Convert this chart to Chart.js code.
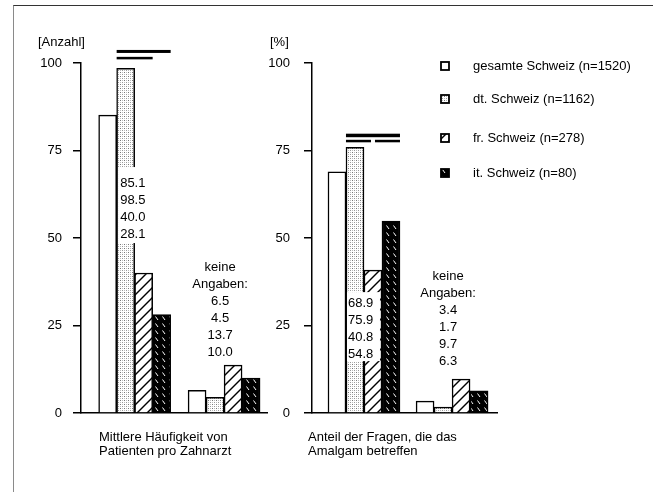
<!DOCTYPE html>
<html>
<head>
<meta charset="utf-8">
<script src="https://cdn.jsdelivr.net/npm/chart.js@4.4.1/dist/chart.umd.min.js"></script>
<style>
  html, body { margin: 0; padding: 0; background: #fff; }
  #wrap { position: relative; width: 653px; height: 492px; overflow: hidden; background: #fff; }
  #wrap canvas { position: absolute; left: 0; top: 0; }
  #frame { position: absolute; left: 13px; top: 5px; width: 700px; height: 600px;
           border-top: 1px solid #333; border-left: 1px solid #8a8a8a; }
</style>
</head>
<body>
<div id="wrap">
  <div id="frame"></div>
  <canvas id="patients" width="653" height="492"></canvas>
  <canvas id="amalgam" width="653" height="492"></canvas>
</div>
<script>
// Language regions (one bar series each)
const regions = [
  'gesamte Schweiz (n=1520)',
  'dt. Schweiz (n=1162)',
  'fr. Schweiz (n=278)',
  'it. Schweiz (n=80)'
];
// Two bar groups per panel: the answer itself and "keine Angaben"
const groupPositions = [1, 2];

// Mean number of patients per dentist
const patientsMain = [85.1, 98.5, 40.0, 28.1];
const patientsNoAnswer = [6.5, 4.5, 13.7, 10.0];

// Share of questions concerning amalgam [%]
const amalgamMain = [68.9, 75.9, 40.8, 54.8];
const amalgamNoAnswer = [3.4, 1.7, 9.7, 6.3];

const yTickValues = [0, 25, 50, 75, 100];

const patientsUnit = '[Anzahl]';
const amalgamUnit = '[%]';
const patientsCaption = ['Mittlere Häufigkeit von', 'Patienten pro Zahnarzt'];
const amalgamCaption = ['Anteil der Fragen, die das', 'Amalgam betreffen'];
const noAnswerHeading = ['keine', 'Angaben:'];

const FONT_FAMILY = '"Liberation Sans", Arial, Helvetica, sans-serif';
const FONT = '13px ' + FONT_FAMILY;
Chart.defaults.font.family = FONT_FAMILY;
Chart.defaults.font.size = 13;
Chart.defaults.color = '#000';

// ---- fill patterns -------------------------------------------------------
function makePattern(size, draw) {
  const c = document.createElement('canvas');
  c.width = size; c.height = size;
  const g = c.getContext('2d');
  draw(g, size);
  return g.createPattern(c, 'repeat');
}
const stipple = makePattern(4, (g) => {
  g.fillStyle = '#fff'; g.fillRect(0, 0, 4, 4);
  g.fillStyle = '#777'; g.fillRect(0, 0, 1, 1);
  g.fillStyle = '#999'; g.fillRect(2, 2, 1, 1);
  g.fillStyle = '#bbb'; g.fillRect(2, 0, 1, 1);
  g.fillStyle = '#bbb'; g.fillRect(0, 2, 1, 1);
});
const hatch = makePattern(10, (g, s) => {
  g.fillStyle = '#fff'; g.fillRect(0, 0, s, s);
  g.strokeStyle = '#000'; g.lineWidth = 1.4;
  for (const off of [-s, 0, s]) {
    g.beginPath(); g.moveTo(off - 1, s + 1); g.lineTo(off + s + 1, -1); g.stroke();
  }
});
const darkDash = makePattern(7, (g, s) => {
  g.fillStyle = '#000'; g.fillRect(0, 0, s, s);
  g.strokeStyle = '#fff'; g.lineWidth = 1;
  g.beginPath(); g.moveTo(1.5, 1.5); g.lineTo(4, 5); g.stroke();
});
const fills = ['#fff', stipple, hatch, darkDash];

function datasetsFor(main, noAnswer) {
  const groups = [main, noAnswer];
  return regions.map((label, i) => ({
    label,
    data: groupPositions.map((x, g) => ({ x, y: groups[g][i] })),
    backgroundColor: fills[i],
    borderColor: '#000',
    borderWidth: 1.5,
    barThickness: 18
  }));
}

// ---- annotations: units, captions, value lists, significance bars, legend --
const panelDecor = {
  id: 'panelDecor',
  afterDraw(chart, args, o) {
    const ctx = chart.ctx;
    const yS = chart.scales.y;
    const bar = (ds, g) => chart.getDatasetMeta(ds).data[g];
    const edgeX = (e) => { const b = bar(e.ds, 0); return b.x + e.edge * b.width / 2 + (e.dx || 0); };

    ctx.save();
    ctx.font = FONT;
    ctx.fillStyle = '#000';
    ctx.textBaseline = 'middle';
    ctx.textAlign = 'left';

    ctx.fillText(o.unit, o.unitX, o.unitY);
    o.caption.forEach((t, i) => ctx.fillText(t, o.captionX, o.captionY + i * 14.5));

    // significance bars above the main group
    o.sig.forEach((s) => {
      const y = yS.getPixelForValue(s.level);
      const x1 = edgeX(s.from), x2 = edgeX(s.to);
      ctx.fillRect(x1, y - s.w / 2, x2 - x1, s.w);
    });

    // value list of the main group, on a white box over the bars
    const vb = o.valueBox;
    const ref = bar(1, 0);
    const refLeft = ref.x - ref.width / 2;
    const y0 = yS.getPixelForValue(vb.level);
    const n = vb.values.length;
    ctx.fillStyle = '#fff';
    ctx.fillRect(refLeft + vb.dxBox, y0 - vb.padTop, vb.boxW, (n - 1) * 17 + vb.padTop + vb.padBottom);
    ctx.fillStyle = '#000';
    vb.values.forEach((v, i) => ctx.fillText(v.toFixed(1), refLeft + vb.dxText, y0 + i * 17));

    // "keine Angaben" list
    const na = o.noAnswer;
    const g2 = bar(0, 1), g2r = bar(3, 1);
    const cx = (g2.x - g2.width / 2 + g2r.x + g2r.width / 2) / 2 + na.dx;
    const ny = yS.getPixelForValue(na.level);
    ctx.textAlign = 'center';
    const lines = noAnswerHeading.concat(na.values.map((v) => v.toFixed(1)));
    lines.forEach((t, i) => ctx.fillText(t, cx, ny + i * 17));

    // legend
    if (o.legend) {
      const lg = o.legend;
      ctx.textAlign = 'left';
      chart.data.datasets.forEach((ds, i) => {
        const y = lg.ys[i];
        ctx.fillStyle = ds.backgroundColor;
        ctx.fillRect(lg.x, y - 4, 8, 8);
        ctx.strokeStyle = '#000';
        ctx.lineWidth = 1.8;
        ctx.strokeRect(lg.x, y - 4, 8, 8);
        ctx.fillStyle = '#000';
        ctx.fillText(ds.label, lg.textX, y);
      });
    }
    ctx.restore();
  }
};

function buildPanel(id, cfg) {
  return new Chart(document.getElementById(id), {
    type: 'bar',
    data: { datasets: datasetsFor(cfg.main, cfg.noAnswer) },
    options: {
      responsive: false,
      animation: false,
      devicePixelRatio: 1,
      layout: { padding: cfg.padding },
      plugins: {
        legend: { display: false },
        tooltip: { enabled: false },
        panelDecor: cfg.decor
      },
      scales: {
        x: {
          type: 'linear',
          offset: false,
          min: cfg.xMin,
          max: cfg.xMax,
          grid: { display: false, drawTicks: false },
          ticks: { display: false },
          border: { display: true, color: '#000', width: 1.5 },
          afterFit: (s) => { s.height = 0; }
        },
        y: {
          min: 0,
          max: 100,
          afterFit: (s) => { s.width = cfg.yWidth; },
          afterBuildTicks: (s) => { s.ticks = yTickValues.map((v) => ({ value: v })); },
          ticks: { color: '#000', font: { size: 13 }, padding: cfg.tickPad },
          grid: { drawOnChartArea: false, drawTicks: true, tickLength: 8, color: '#000', lineWidth: 1.5 },
          border: { color: '#000', width: 1.5 }
        }
      }
    },
    plugins: [panelDecor]
  });
}

buildPanel('patients', {
  main: patientsMain,
  noAnswer: patientsNoAnswer,
  xMin: 0.4, xMax: 2.48,
  yWidth: 81, tickPad: 11,
  padding: { left: 0, right: 386, top: 63, bottom: 79 },
  decor: {
    unit: patientsUnit, unitX: 38, unitY: 42,
    caption: patientsCaption, captionX: 99, captionY: 437,
    sig: [
      { from: { ds: 1, edge: -1 }, to: { ds: 3, edge: 1 }, level: 103.3, w: 3 },
      { from: { ds: 1, edge: -1 }, to: { ds: 2, edge: 1 }, level: 101.4, w: 2.5 }
    ],
    valueBox: { values: patientsMain, level: 65.7, dxText: 3.5, dxBox: 1.5, boxW: 23, padTop: 16, padBottom: 9 },
    noAnswer: { values: patientsNoAnswer, level: 41.7, dx: -4 }
  }
});

buildPanel('amalgam', {
  main: amalgamMain,
  noAnswer: amalgamNoAnswer,
  xMin: 0.41, xMax: 2.51,
  yWidth: 60, tickPad: 14,
  padding: { left: 252, right: 156, top: 63, bottom: 79 },
  decor: {
    unit: amalgamUnit, unitX: 270, unitY: 42,
    caption: amalgamCaption, captionX: 308, captionY: 437,
    sig: [
      { from: { ds: 1, edge: -1 }, to: { ds: 3, edge: 1 }, level: 79.3, w: 3.5 },
      { from: { ds: 1, edge: -1 }, to: { ds: 2, edge: 0, dx: -2 }, level: 77.7, w: 2.5 },
      { from: { ds: 2, edge: 0, dx: 2 }, to: { ds: 3, edge: 1 }, level: 77.7, w: 2.5 }
    ],
    valueBox: { values: amalgamMain, level: 31.4, dxText: 2, dxBox: 1, boxW: 33, padTop: 11, padBottom: 7 },
    noAnswer: { values: amalgamNoAnswer, level: 38.9, dx: -4 },
    legend: { x: 441, textX: 473, ys: [66, 99, 138, 173] }
  }
});
</script>
</body>
</html>
